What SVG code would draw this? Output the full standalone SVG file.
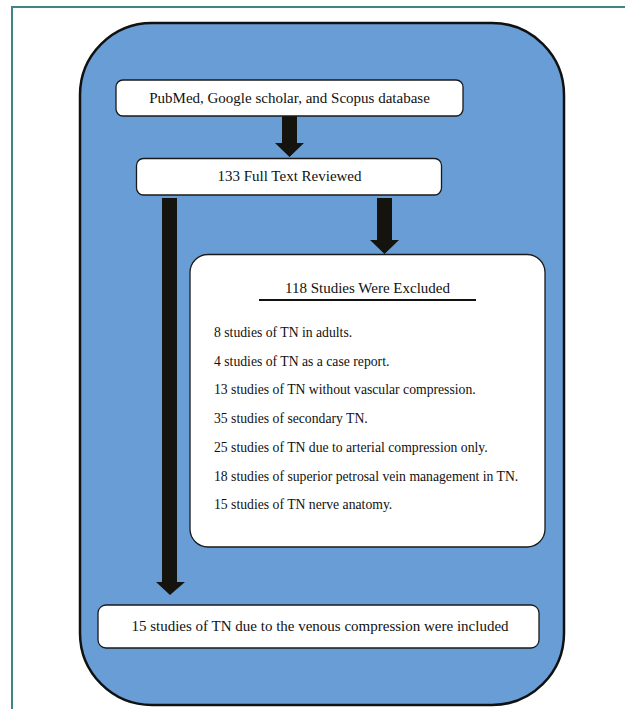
<svg xmlns="http://www.w3.org/2000/svg" width="625" height="709" viewBox="0 0 625 709">
<style>
.box{fill:#ffffff;stroke:#1a1a1a;stroke-width:1.3}
.t{font-family:"Liberation Serif","Times New Roman",serif;fill:#111;font-size:15px}
.c{text-anchor:middle}
.li{font-size:13.7px}
.arr{fill:#15130d}
</style>
<rect x="0" y="0" width="625" height="709" fill="#ffffff"/>
<rect x="12" y="7" width="700" height="800" fill="none" stroke="#3f8585" stroke-width="2"/>
<g id="frame">
<rect x="80" y="23" width="484" height="682" rx="72" ry="72" fill="#689ed5" stroke="#111" stroke-width="2.5"/>
</g>
<g id="connectors">
<polygon class="arr" points="282,116 297,116 297,143 304,143 289.5,157 275,143 282,143"/>
<polygon class="arr" points="377,198 392,198 392,240 399,240 384.5,254 370,240 377,240"/>
<polygon class="arr" points="162,198 177,198 177,582 185,582 170,595 156,582 162,582"/>
</g>
<g id="n1">
<rect class="box" x="116" y="80" width="347" height="36" rx="7"/>
<text class="t c" x="289.5" y="103">PubMed, Google scholar, and Scopus database</text>
</g>
<g id="n2">
<rect class="box" x="136.5" y="158.5" width="305" height="36.5" rx="7"/>
<text class="t c" x="289.5" y="181">133 Full Text Reviewed</text>
</g>
<g id="n3">
<rect class="box" x="190" y="254.5" width="355" height="292.5" rx="18"/>
<text class="t c" x="367.5" y="293">118 Studies Were Excluded</text>
<line x1="259" y1="300" x2="476" y2="300" stroke="#111" stroke-width="2"/>
<text class="t li" x="214" y="337">8 studies of TN in adults.</text>
<text class="t li" x="214" y="366">4 studies of TN as a case report.</text>
<text class="t li" x="214" y="394">13 studies of TN without vascular compression.</text>
<text class="t li" x="214" y="423">35 studies of secondary TN.</text>
<text class="t li" x="214" y="452">25 studies of TN due to arterial compression only.</text>
<text class="t li" x="214" y="481">18 studies of superior petrosal vein management in TN.</text>
<text class="t li" x="214" y="509">15 studies of TN nerve anatomy.</text>
</g>
<g id="n4">
<rect class="box" x="98" y="605" width="441" height="43" rx="8"/>
<text class="t c" x="320" y="631">15 studies of TN due to the venous compression were included</text>
</g>
</svg>
